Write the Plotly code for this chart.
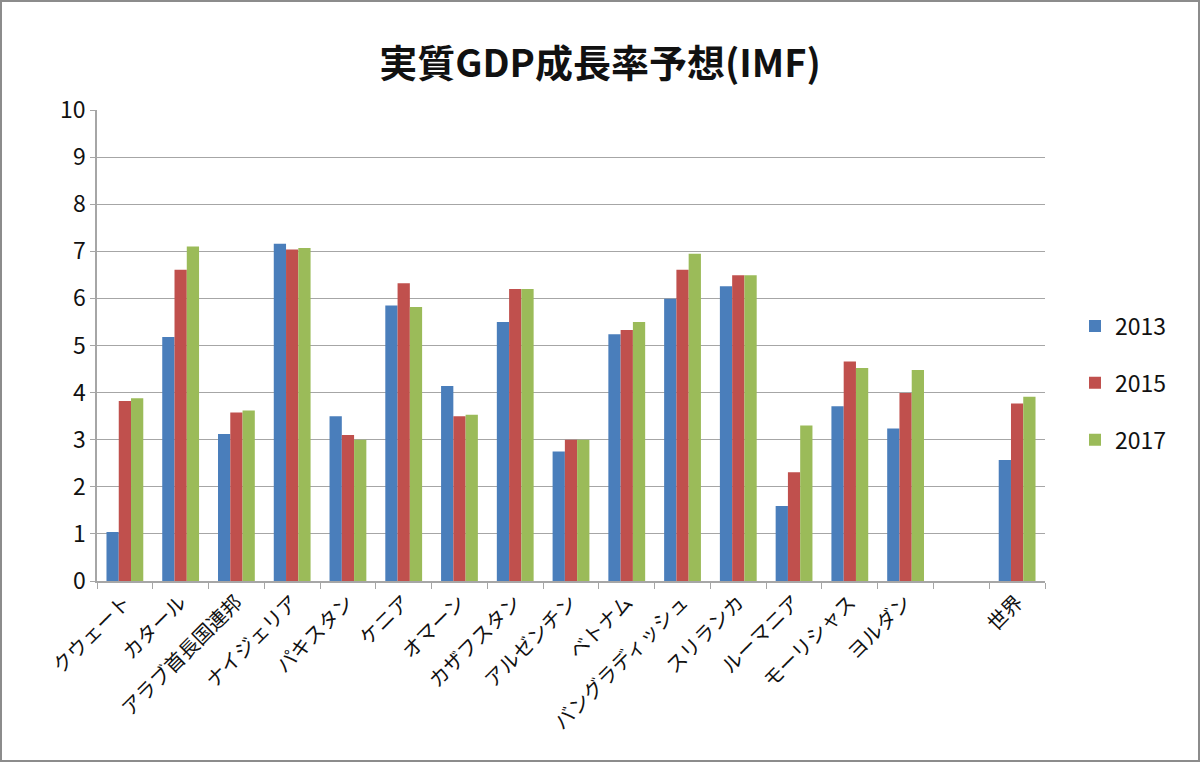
import plotly.graph_objects as go

categories = ["クウェート", "カタール", "アラブ首長国連邦", "ナイジェリア", "パキスタン", "ケニア",
              "オマーン", "カザフスタン", "アルゼンチン", "ベトナム", "バングラディッシュ",
              "スリランカ", "ルーマニア", "モーリシャス", "ヨルダン", " ", "世界"]
y2013 = [1.04, 5.18, 3.12, 7.16, 3.50, 5.85, 4.14, 5.50, 2.75, 5.24, 5.99, 6.26, 1.59, 3.71, 3.24, None, 2.57]
y2015 = [3.82, 6.61, 3.58, 7.04, 3.10, 6.32, 3.50, 6.20, 3.00, 5.33, 6.61, 6.49, 2.31, 4.66, 3.99, None, 3.77]
y2017 = [3.88, 7.10, 3.62, 7.07, 3.00, 5.82, 3.53, 6.20, 3.00, 5.50, 6.95, 6.49, 3.30, 4.52, 4.48, None, 3.91]
series_names = ["2013", "2015", "2017"]
colors = ["#4a7ebb", "#c0504d", "#9bbb59"]
y_ticks = list(range(0, 11))

FONT = "Noto Sans CJK JP"

fig = go.Figure()
for name, vals, col in zip(series_names, [y2013, y2015, y2017], colors):
    fig.add_trace(go.Bar(x=categories, y=vals, name=name, marker_color=col,
                         marker_line_width=0, legendgroup=name))

W, H = 1200, 764
ml, mr, mt, mb = 97, 155, 110, 183
pw, ph = W - ml - mr, H - mt - mb

def px_x(p):
    return (p - ml) / pw

def px_y(p):
    return (H - mb - p) / ph

fig.update_layout(
    width=W, height=H,
    margin=dict(l=ml, r=mr, t=mt, b=mb),
    paper_bgcolor="white", plot_bgcolor="white",
    font=dict(family=FONT, color="#111111"),
    title=dict(text="<b>実質GDP成長率予想(IMF)</b>", x=0.5, xanchor="center",
               y=1 - 64 / H, yanchor="middle",
               font=dict(family=FONT, size=38, color="#111111")),
    barmode="group", bargap=0.34, bargroupgap=0,
    showlegend=True,
    legend=dict(x=px_x(1075), y=px_y(383), xanchor="left", yanchor="middle",
                font=dict(family=FONT, size=23, color="#111111"),
                tracegroupgap=24, itemwidth=30, bgcolor="rgba(0,0,0,0)"),
    xaxis=dict(type="category", tickangle=-45, tickfont=dict(family=FONT, size=20, color="#111111"),
               showline=True, linecolor="#a6a6a6", linewidth=1.5,
               ticks="outside", tickson="boundaries", ticklen=6, tickcolor="#a6a6a6",
               showgrid=False),
    yaxis=dict(range=[0, 10], tickvals=y_ticks, tickfont=dict(family=FONT, size=23, color="#111111"),
               showline=True, linecolor="#a6a6a6", linewidth=1.5,
               ticks="outside", ticklen=5, tickcolor="#a6a6a6",
               showgrid=True, gridcolor="#a6a6a6", gridwidth=1.2, zeroline=False),
)

fig.add_shape(type="rect", xref="paper", yref="paper",
              x0=px_x(1), x1=px_x(1199), y0=px_y(761), y1=px_y(1),
              line=dict(color="#8c8c8c", width=2), layer="below")

fig.write_html("out.html")
